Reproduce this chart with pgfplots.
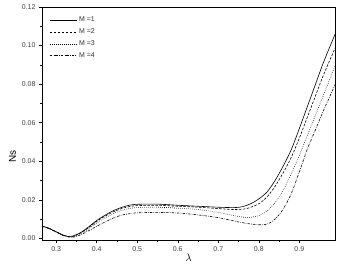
\documentclass[border=0pt]{standalone}
\usepackage{pgfplots}
\pgfplotsset{compat=1.18}
\usepackage{fontspec}
\setmainfont{Liberation Sans}
\begin{document}
\begin{tikzpicture}
\begin{axis}[
  scale only axis,
  width=293bp, height=233bp,
  xmin=0.265, xmax=0.988,
  ymin=-0.0008, ymax=0.12,
  xtick={0.3,0.4,0.5,0.6,0.7,0.8,0.9},
  ytick={0,0.02,0.04,0.06,0.08,0.10,0.12},
  minor x tick num=1, minor y tick num=1,
  tick pos=left, tick align=outside,
  major tick length=3bp, minor tick length=2bp,
  tick style={black, line width=0.5pt},
  axis line style={line width=0.7pt},
  /pgf/number format/assume math mode=true,
  xticklabel style={font=\fontsize{7}{8}\selectfont, text=black!75, /pgf/number format/.cd, fixed, precision=1, fixed zerofill},
  yticklabel style={font=\fontsize{7}{8}\selectfont, text=black!75, /pgf/number format/.cd, fixed, precision=2, fixed zerofill},
  scaled y ticks=false,
  xlabel={$\lambda$}, ylabel={Ns},
  xlabel style={font=\fontsize{11}{12}\selectfont, yshift=4bp},
  ylabel style={font=\fontsize{10}{11}\selectfont, at={(ticklabel cs:0.36)}, yshift=-1bp},
  legend style={at={(0.015,0.975)}, anchor=north west, draw=none, fill=none,
    font=\fontsize{7}{8}\selectfont, row sep=1.5bp, text=black!80},
  legend cell align=left,
  legend image code/.code={\draw[#1] (0cm,0cm) -- (0.95cm,0cm);},
]
\addplot[black, line width=0.6pt, smooth] coordinates {
(0.265,0.0064)(0.28,0.0055)(0.30,0.0035)(0.32,0.0015)(0.33,0.0010)(0.34,0.0012)(0.36,0.0030)(0.38,0.0060)(0.40,0.0093)(0.42,0.0120)(0.44,0.0143)(0.46,0.0160)(0.48,0.0172)(0.50,0.0177)(0.55,0.0178)(0.60,0.0172)(0.65,0.0167)(0.70,0.0162)(0.74,0.0160)(0.76,0.0165)(0.78,0.0180)(0.80,0.0205)(0.82,0.0240)(0.84,0.0300)(0.86,0.0375)(0.88,0.0460)(0.90,0.0570)(0.92,0.0685)(0.94,0.0800)(0.96,0.0915)(0.99,0.1068)};
\addlegendentry{M =1}
\addplot[black, line width=0.6pt, smooth, dash pattern=on 2.5pt off 1.5pt] coordinates {
(0.265,0.0064)(0.28,0.0055)(0.30,0.0035)(0.32,0.0015)(0.34,0.0010)(0.36,0.0028)(0.38,0.0056)(0.40,0.0088)(0.42,0.0115)(0.44,0.0137)(0.46,0.0154)(0.48,0.0165)(0.50,0.0170)(0.55,0.0172)(0.60,0.0167)(0.65,0.0162)(0.70,0.0155)(0.74,0.0150)(0.77,0.0155)(0.80,0.0180)(0.82,0.0215)(0.84,0.0270)(0.86,0.0340)(0.88,0.0420)(0.90,0.0520)(0.92,0.0630)(0.94,0.0740)(0.96,0.0850)(0.99,0.0995)};
\addlegendentry{M =2}
\addplot[black, line width=0.6pt, smooth, dash pattern=on 0.6pt off 1.4pt] coordinates {
(0.265,0.0063)(0.28,0.0054)(0.30,0.0034)(0.32,0.0014)(0.34,0.0009)(0.36,0.0025)(0.38,0.0050)(0.40,0.0080)(0.42,0.0106)(0.44,0.0128)(0.46,0.0145)(0.48,0.0155)(0.50,0.0160)(0.55,0.0162)(0.60,0.0157)(0.65,0.0150)(0.70,0.0135)(0.74,0.0118)(0.77,0.0109)(0.80,0.0118)(0.82,0.0142)(0.84,0.0185)(0.86,0.0250)(0.88,0.0335)(0.90,0.0430)(0.92,0.0535)(0.94,0.0640)(0.96,0.0745)(0.99,0.0905)};
\addlegendentry{M =3}
\addplot[black, line width=0.6pt, smooth, dash pattern=on 2.5pt off 1.2pt on 0.6pt off 1.2pt] coordinates {
(0.265,0.0062)(0.28,0.0052)(0.30,0.0033)(0.32,0.0013)(0.34,0.0006)(0.36,0.0018)(0.38,0.0040)(0.40,0.0063)(0.42,0.0085)(0.44,0.0105)(0.46,0.0120)(0.48,0.0128)(0.50,0.0133)(0.55,0.0135)(0.60,0.0132)(0.65,0.0122)(0.70,0.0108)(0.74,0.0090)(0.77,0.0078)(0.80,0.0071)(0.82,0.0074)(0.84,0.0100)(0.86,0.0152)(0.88,0.0232)(0.90,0.0345)(0.92,0.0465)(0.94,0.0565)(0.96,0.0665)(0.99,0.0805)};
\addlegendentry{M =4}
\end{axis}
\pgfresetboundingbox
\path[use as bounding box] ([xshift=-42bp,yshift=-26bp]current axis.south west) rectangle ([xshift=5bp,yshift=7bp]current axis.north east);
\end{tikzpicture}
\end{document}
